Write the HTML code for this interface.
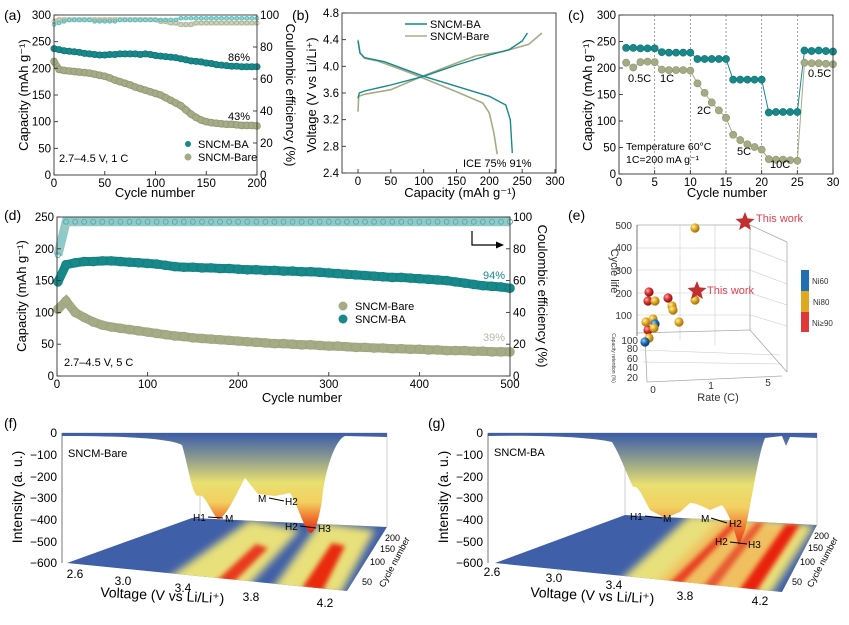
<!DOCTYPE html>
<html><head><meta charset="utf-8">
<style>
html,body{margin:0;padding:0;background:#fff;}
svg{display:block;font-family:"Liberation Sans",Arial,sans-serif;}
</style></head>
<body>
<svg id="fig" width="849" height="625" viewBox="0 0 849 625" xmlns="http://www.w3.org/2000/svg">
<defs>
 <radialGradient id="sY" cx="35%" cy="35%" r="65%"><stop offset="0" stop-color="#fff3b0"/><stop offset="0.5" stop-color="#e0aa20"/><stop offset="1" stop-color="#a07010"/></radialGradient>
 <radialGradient id="sR" cx="35%" cy="35%" r="65%"><stop offset="0" stop-color="#ffb0b0"/><stop offset="0.5" stop-color="#d83030"/><stop offset="1" stop-color="#901010"/></radialGradient>
 <radialGradient id="sB" cx="35%" cy="35%" r="65%"><stop offset="0" stop-color="#a0d0ff"/><stop offset="0.5" stop-color="#1f6fb2"/><stop offset="1" stop-color="#0a3a70"/></radialGradient>
 <linearGradient id="surfF" gradientUnits="userSpaceOnUse" x1="0" y1="433" x2="0" y2="532">
  <stop offset="0" stop-color="#3b5ca8"/><stop offset="0.25" stop-color="#8a9a90"/><stop offset="0.5" stop-color="#e8e070"/><stop offset="0.7" stop-color="#f2d060"/><stop offset="0.85" stop-color="#f07a30"/><stop offset="1" stop-color="#e02818"/>
 </linearGradient>
 <linearGradient id="surfG" gradientUnits="userSpaceOnUse" x1="0" y1="433" x2="0" y2="548">
  <stop offset="0" stop-color="#3b5ca8"/><stop offset="0.22" stop-color="#8a9a90"/><stop offset="0.45" stop-color="#e8e070"/><stop offset="0.65" stop-color="#f2d060"/><stop offset="0.82" stop-color="#f07a30"/><stop offset="1" stop-color="#e02818"/>
 </linearGradient>
 <filter id="blur4" x="-50%" y="-50%" width="200%" height="200%"><feGaussianBlur stdDeviation="4"/></filter>
 <filter id="blur2" x="-50%" y="-50%" width="200%" height="200%"><feGaussianBlur stdDeviation="2.5"/></filter>
 <clipPath id="floorF"><polygon points="67,563 347,591 387,527 192,518"/></clipPath>
 <clipPath id="floorG"><polygon points="495,563 782,592 817,525 625,515"/></clipPath>
</defs>

<text x="4" y="20" font-size="14">(a)</text>
<text x="292" y="20" font-size="14">(b)</text>
<text x="568" y="20" font-size="14">(c)</text>
<text x="4" y="220" font-size="14">(d)</text>
<text x="568" y="220" font-size="14">(e)</text>
<text x="4" y="428" font-size="14">(f)</text>
<text x="428" y="428" font-size="14">(g)</text>

<g id="charts"></g>

<g font-size="10" fill="#333">
 <g stroke="#ccc" stroke-width="0.6" fill="none">
  <line x1="637" y1="248" x2="750" y2="248"/><line x1="637" y1="270" x2="750" y2="270"/>
  <line x1="637" y1="293" x2="750" y2="293"/><line x1="637" y1="315" x2="750" y2="315"/>
  <line x1="750" y1="248" x2="787" y2="262"/><line x1="750" y1="270" x2="787" y2="284"/>
  <line x1="750" y1="293" x2="787" y2="305"/><line x1="750" y1="315" x2="787" y2="326"/>
  <line x1="680" y1="225" x2="680" y2="340"/><line x1="715" y1="225" x2="715" y2="345"/>
  <line x1="640" y1="350" x2="780" y2="355"/><line x1="643" y1="362" x2="782" y2="364"/>
 </g>
 <g stroke="#aaa" stroke-width="0.8" fill="none">
  <line x1="637" y1="225" x2="750" y2="225"/><line x1="750" y1="225" x2="787" y2="242"/>
  <line x1="750" y1="225" x2="750" y2="330"/><line x1="787" y1="242" x2="787" y2="372"/>
  <line x1="637" y1="333" x2="750" y2="330"/><line x1="750" y1="330" x2="787" y2="372"/>
  <line x1="647" y1="382" x2="782" y2="376"/><line x1="645" y1="337" x2="647" y2="382"/>
 </g>
 <line x1="637" y1="225" x2="637" y2="336" stroke="#555" stroke-width="0.8"/>
 <g text-anchor="end">
  <text x="632" y="229">500</text><text x="632" y="251">400</text><text x="632" y="274">300</text><text x="632" y="297">200</text><text x="632" y="319">100</text>
 </g>
 <text transform="translate(611,271) rotate(90)" text-anchor="middle" font-size="11">Cycle life</text>
 <g text-anchor="end">
  <text x="638" y="344">100</text><text x="638" y="352">80</text><text x="638" y="362">60</text><text x="638" y="371">40</text><text x="638" y="381">20</text>
 </g>
 <text transform="translate(612,358) rotate(90)" text-anchor="middle" font-size="5">Capacity retention (%)</text>
 <g text-anchor="middle">
  <text x="653" y="393">0</text><text x="711" y="389">1</text><text x="768" y="386">5</text>
 </g>
 <text x="718" y="401" text-anchor="middle" font-size="11">Rate (C)</text>
 <g>
  <circle cx="695" cy="228" r="4.6" fill="url(#sY)"/>
  <circle cx="649" cy="292" r="4.6" fill="url(#sR)"/>
  <circle cx="648" cy="301" r="4.6" fill="url(#sR)"/>
  <circle cx="655" cy="301" r="4.6" fill="url(#sY)"/>
  <circle cx="668" cy="298" r="4.6" fill="url(#sR)"/>
  <circle cx="672" cy="306" r="4.6" fill="url(#sY)"/>
  <circle cx="673" cy="310" r="4.6" fill="url(#sY)"/>
  <circle cx="695" cy="300" r="4.6" fill="url(#sY)"/>
  <circle cx="646" cy="322" r="4.6" fill="url(#sY)"/>
  <circle cx="653" cy="319" r="4.6" fill="url(#sY)"/>
  <circle cx="655" cy="324" r="4.6" fill="url(#sB)"/>
  <circle cx="679" cy="322" r="4.6" fill="url(#sY)"/>
  <circle cx="648" cy="330" r="4.6" fill="url(#sR)"/>
  <circle cx="654" cy="328" r="4.6" fill="url(#sY)"/>
  <circle cx="649" cy="338" r="4.6" fill="url(#sY)"/>
  <circle cx="645" cy="342" r="4.6" fill="url(#sB)"/>
 </g>
 <polygon fill="#c03030" points="745,212 747.6,218.4 754.5,219 749.2,223.4 750.9,230 745,226.4 739.1,230 740.8,223.4 735.5,219 742.4,218.4"/>
 <polygon fill="#c03030" points="697,281 699.6,287.4 706.5,288 701.2,292.4 702.9,299 697,295.4 691.1,299 692.8,292.4 687.5,288 694.4,287.4"/>
 <text x="756" y="222" fill="#e04050" font-size="11">This work</text>
 <text x="707" y="294" fill="#e04050" font-size="11">This work</text>
 <rect x="801" y="270" width="8" height="21" fill="#1f6fb2"/>
 <rect x="801" y="291" width="8" height="21" fill="#e0a820"/>
 <rect x="801" y="312" width="8" height="20" fill="#e03838"/>
 <g font-size="8">
  <text x="812" y="284">Ni60</text><text x="813" y="305">Ni80</text><text x="812" y="326">Ni≥90</text>
 </g>
</g>

<g font-size="11">
 <polygon points="67,563 347,591 387,527 192,518" fill="#3f5fa8"/>
 <g clip-path="url(#floorF)">
  <polygon points="165,580 240,595 300,530 250,520" fill="#e8e07a" filter="url(#blur4)"/>
  <polygon points="270,592 340,595 375,530 320,522" fill="#e8e07a" filter="url(#blur4)"/>
  <polygon points="212,585 228,588 268,548 256,544" fill="#e83a1a" filter="url(#blur2)"/>
  <polygon points="302,588 322,592 345,546 332,543" fill="#e82a10" filter="url(#blur2)"/>
 </g>
 <g stroke="#bbb" stroke-width="0.7" fill="none">
  <line x1="62" y1="433" x2="387" y2="433"/><line x1="387" y1="433" x2="387" y2="527"/><line x1="200" y1="433" x2="200" y2="518"/>
 </g>
 <path fill="url(#surfF)" d="M62,433 L387,433 L387,437 L345,436 C335,440 325,470 322,500 C318,525 314,532 311,533 C304,530 298,505 290,493 L275,496 L258,494 L245,478 C238,490 228,515 218,520 C210,510 204,492 198,496 C192,495 188,465 182,445 C170,438 120,436 62,436 Z"/>
 <line x1="62" y1="433" x2="62" y2="563" stroke="#555" stroke-width="0.8"/>
 <g text-anchor="end" font-size="12">
  <text x="57" y="437">0</text><text x="57" y="459">−100</text><text x="57" y="481">−200</text><text x="57" y="502">−300</text><text x="57" y="524">−400</text><text x="57" y="546">−500</text><text x="57" y="567">−600</text>
 </g>
 <text transform="translate(22,497) rotate(-90)" text-anchor="middle" font-size="14">Intensity (a. u.)</text>
 <text x="68" y="457" font-size="11">SNCM-Bare</text>
 <g font-size="12" text-anchor="middle">
  <text x="75" y="578">2.6</text><text x="123" y="585">3.0</text><text x="183" y="592">3.4</text><text x="251" y="601">3.8</text><text x="325" y="607">4.2</text>
 </g>
 <text x="100" y="600" font-size="14" transform="rotate(3,160,600)">Voltage (V vs Li/Li⁺)</text>
 <g font-size="9">
  <text x="385" y="541">200</text><text x="380" y="552">150</text><text x="370" y="565">100</text><text x="362" y="585">50</text>
 </g>
 <text transform="translate(384,588) rotate(-62)" font-size="9">Cycle number</text>
 <g font-size="10">
  <text x="193" y="521">H1</text><line x1="208" y1="517" x2="223" y2="518" stroke="#000"/><text x="225" y="522">M</text>
  <text x="258" y="502">M</text><line x1="269" y1="498" x2="284" y2="501" stroke="#000"/><text x="285" y="505">H2</text>
  <text x="285" y="530">H2</text><line x1="300" y1="526" x2="316" y2="528" stroke="#000"/><text x="318" y="532">H3</text>
 </g>
</g>

<g font-size="11">
 <polygon points="495,563 782,592 817,525 625,515" fill="#3f5fa8"/>
 <g clip-path="url(#floorG)">
  <polygon points="610,590 770,595 815,525 690,515" fill="#e8e07a" filter="url(#blur4)"/>
  <polygon points="650,590 750,592 800,528 720,520" fill="#f0c060" filter="url(#blur4)"/>
  <polygon points="662,590 674,592 742,520 734,520" fill="#e84020" filter="url(#blur2)"/>
  <polygon points="700,590 712,592 765,522 756,522" fill="#e85a30" filter="url(#blur2)"/>
  <polygon points="738,592 756,592 800,524 786,524" fill="#e82010" filter="url(#blur2)"/>
 </g>
 <g stroke="#bbb" stroke-width="0.7" fill="none">
  <line x1="488" y1="433" x2="817" y2="433"/><line x1="817" y1="433" x2="817" y2="525"/><line x1="625" y1="433" x2="625" y2="515"/>
 </g>
 <path fill="url(#surfG)" d="M488,433 L817,433 L817,438 L790,437 L786,446 L782,436 L765,438 C758,455 752,500 745,530 L739,546 C734,530 730,515 722,505 L710,510 C700,505 695,503 690,503 L680,512 L665,518 L650,510 C642,495 638,485 633,487 C625,470 620,455 612,442 C590,437 540,435 488,436 Z"/>
 <line x1="488" y1="433" x2="488" y2="563" stroke="#555" stroke-width="0.8"/>
 <g text-anchor="end" font-size="12">
  <text x="483" y="437">0</text><text x="483" y="459">−100</text><text x="483" y="481">−200</text><text x="483" y="502">−300</text><text x="483" y="524">−400</text><text x="483" y="546">−500</text><text x="483" y="567">−600</text>
 </g>
 <text transform="translate(448,497) rotate(-90)" text-anchor="middle" font-size="14">Intensity (a. u.)</text>
 <text x="494" y="456" font-size="11">SNCM-BA</text>
 <g font-size="12" text-anchor="middle">
  <text x="492" y="576">2.6</text><text x="554" y="582">3.0</text><text x="614" y="589">3.4</text><text x="685" y="600">3.8</text><text x="760" y="605">4.2</text>
 </g>
 <text x="530" y="600" font-size="14" transform="rotate(3,590,600)">Voltage (V vs Li/Li⁺)</text>
 <g font-size="9">
  <text x="814" y="539">200</text><text x="808" y="551">150</text><text x="800" y="565">100</text><text x="792" y="585">50</text>
 </g>
 <text transform="translate(812,588) rotate(-62)" font-size="9">Cycle number</text>
 <g font-size="10">
  <text x="630" y="520">H1</text><line x1="645" y1="516" x2="662" y2="518" stroke="#000"/><text x="663" y="522">M</text>
  <text x="701" y="522">M</text><line x1="711" y1="518" x2="727" y2="523" stroke="#000"/><text x="729" y="527">H2</text>
  <text x="715" y="545">H2</text><line x1="730" y1="542" x2="747" y2="544" stroke="#000"/><text x="748" y="548">H3</text>
 </g>
</g>
</svg>

<script>
const aCycles = [0,5,10,15,20,25,30,35,40,45,50,55,60,65,70,75,80,85,90,95,100,105,110,115,120,125,130,135,140,145,150,155,160,165,170,175,180,185,190,195,200];
const aCapBA = [237,235,233,232,231,230,228,227,226,225,225,226,226,227,227,227,227,226,227,226,224,223,222,221,220,218,216,214,213,212,210,209,207,206,205,204,204,203,203,203,203];
const aCapBare = [213,198,196,195,194,193,192,191,189,187,185,182,178,175,172,169,165,162,159,156,153,150,145,140,135,130,122,114,108,103,100,98,97,96,95,95,94,93,93,93,92];
const aCEBA = [94,95,96,97,97,97,97,97,96,96,96,96,96,97,97,97,97,97,97,97,97,97,97,97,97,98,98,98,98,98,98,98,98,98,98,98,98,98,98,98,98];
const aCEBare = [96,97,97,97,97,97,97,97,97,97,97,97,97,97,97,97,97,97,97,97,97,96,96,95,95,94,94,94,95,95,95,95,95,95,95,95,95,95,95,95,95];
const aXTicks = [0,50,100,150,200];
const aYTicks = [0,50,100,150,200,250,300];
const aY2Ticks = [0,20,40,60,80,100];
const bBAChgCap = [0,2,10,50,100,150,200,230,250,258];
const bBAChgV = [3.52,3.6,3.63,3.72,3.85,4.02,4.17,4.25,4.38,4.5];
const bBADisCap = [0,3,10,40,100,150,200,225,232,235];
const bBADisV = [4.38,4.2,4.13,4.07,3.85,3.7,3.55,3.42,3.2,2.7];
const bBareChgCap = [0,1,10,50,100,150,180,220,260,280];
const bBareChgV = [3.32,3.55,3.58,3.65,3.86,4.05,4.16,4.22,4.33,4.5];
const bBareDisCap = [0,3,10,30,80,150,190,200,207,212];
const bBareDisV = [4.4,4.2,4.12,4.08,3.9,3.62,3.45,3.3,3.0,2.68];
const bXTicks = [0,50,100,150,200,250,300];
const bYTicks = [2.4,2.8,3.2,3.6,4.0,4.4,4.8];
const cCycles = [1,2,3,4,5,6,7,8,9,10,11,12,13,14,15,16,17,18,19,20,21,22,23,24,25,26,27,28,29,30];
const cCapBA = [238,238,237,237,237,230,229,229,229,229,217,217,217,217,217,178,178,178,178,178,116,117,117,117,117,233,232,233,232,231];
const cCapBare = [210,201,211,212,211,197,196,196,196,195,171,153,135,120,106,74,64,56,51,46,28,27,27,26,25,210,209,209,208,207];
const cXTicks = [0,5,10,15,20,25,30];
const cYTicks = [0,50,100,150,200,250,300];
const cRateLines = [5,10,15,20,25];
const dCycles = [1,10,20,30,40,50,60,70,80,90,100,110,120,130,140,150,160,170,180,190,200,210,220,230,240,250,260,270,280,290,300,310,320,330,340,350,360,370,380,390,400,410,420,430,440,450,460,470,480,490,500];
const dCapBA = [148,175,178,180,180,181,181,180,179,178,177,176,174,172,171,171,170,170,169,169,168,167,167,166,166,165,165,164,164,163,162,161,160,159,158,157,156,155,155,154,153,152,151,150,148,146,144,142,141,140,138];
const dCapBare = [105,118,100,92,85,80,77,75,73,71,69,67,65,63,62,60,59,58,57,56,55,54,53,52,51,51,50,49,49,48,47,47,46,45,45,44,44,43,43,42,42,41,41,40,40,40,39,39,38,38,38];
const dCEBA = [76,97,97,97,97,97,97,97,97,97,97,97,97,97,97,97,97,97,97,97,97,97,97,97,97,97,97,97,97,97,97,97,97,97,97,97,97,97,97,97,97,97,97,97,97,97,97,97,97,97,97];
const dCEBare = [80,93,96,97,97,97,97,97,97,97,97,97,97,97,97,97,97,97,97,97,97,97,97,97,97,97,97,97,97,97,97,97,97,97,97,97,97,97,97,97,97,97,97,97,97,97,97,97,97,97,97];
const dXTicks = [0,100,200,300,400,500];
const dYTicks = [0,50,100,150,200,250];
const dY2Ticks = [0,20,40,60,80,100];

const NS = 'http://www.w3.org/2000/svg';
const root = document.getElementById('charts');
const TEAL = '#17898a', BARE = '#a5ab85';
function mk(tag, attrs, parent) {
  const e = document.createElementNS(NS, tag);
  for (const k in attrs) e.setAttribute(k, attrs[k]);
  (parent || root).appendChild(e);
  return e;
}
function lin(d0, d1, r0, r1) { return v => r0 + (v - d0) / (d1 - d0) * (r1 - r0); }
function txt(x, y, s, size, anchor, parent, name, extra) {
  const t = mk('text', Object.assign({x: x, y: y, 'font-size': size, 'text-anchor': anchor || 'start'}, extra || {}), parent);
  t.textContent = s;
  
  
  return t;
}
function frame(g, x0, y0, x1, y1, name) {
  const r = mk('rect', {x: x0, y: y0, width: x1 - x0, height: y1 - y0, fill: 'none', stroke: '#333', 'stroke-width': 0.9}, g);
  
  
}
function xTicks(g, ticks, sx, yb, name, fmt) {
  ticks.forEach(t => {
    const l = mk('line', {x1: sx(t), x2: sx(t), y1: yb, y2: yb - 4, stroke: '#333', 'stroke-width': 0.9}, g);
    
    
    txt(sx(t), yb + 12, fmt ? fmt(t) : String(t), 11.5, 'middle', g, name + '-label');
  });
}
function yTicks(g, ticks, sy, xl, side, name, fmt) {
  ticks.forEach(t => {
    const dir = side === 'left' ? 1 : -1;
    const l = mk('line', {x1: xl, x2: xl + 4 * dir, y1: sy(t), y2: sy(t), stroke: '#333', 'stroke-width': 0.9}, g);
    
    
    txt(side === 'left' ? xl - 3 : xl + 3, sy(t) + 4, fmt ? fmt(t) : String(t), 11.5, side === 'left' ? 'end' : 'start', g, name + '-label');
  });
}
function dots(g, xs, ys, sx, sy, r, fill, stroke, name, open) {
  xs.forEach((x, i) => {
    const c = mk('circle', {cx: sx(x), cy: sy(ys[i]), r: r, fill: open ? 'none' : fill, stroke: stroke, 'stroke-width': open ? 0.8 : 0.6}, g);
    
    
  });
}
function line(g, xs, ys, sx, sy, color, w, name) {
  const d = xs.map((x, i) => (i ? 'L' : 'M') + sx(x).toFixed(1) + ',' + sy(ys[i]).toFixed(1)).join(' ');
  const p = mk('path', {d: d, fill: 'none', stroke: color, 'stroke-width': w}, g);
  
  
  return p;
}
function group(name) {
  const g = mk('g', {});
  
  
  return g;
}

(function(){
  const g = group('panel-a-cycling-1c');
  const sx = lin(0, 200, 54, 257), sy = lin(0, 300, 175, 15), sy2 = lin(0, 100, 175, 15);
  line(g, aCycles, aCEBare, sx, sy2, '#cfd2c0', 5, 'a-ce-bare-band');
  line(g, aCycles, aCEBA, sx, sy2, '#9fd3d3', 3, 'a-ce-ba-band');
  dots(g, aCycles, aCEBare, sx, sy2, 2, 'none', BARE, 'a-ce-bare-point', true);
  dots(g, aCycles, aCEBA, sx, sy2, 1.8, 'none', '#4bb', 'a-ce-ba-point', true);
  line(g, aCycles, aCapBare, sx, sy, BARE, 7, 'a-cap-bare-band');
  line(g, aCycles, aCapBA, sx, sy, TEAL, 6, 'a-cap-ba-band');
  dots(g, aCycles, aCapBare, sx, sy, 3.5, BARE, '#8d9370', 'a-cap-bare-point');
  dots(g, aCycles, aCapBA, sx, sy, 3.2, TEAL, '#0f6d6e', 'a-cap-ba-point');
  frame(g, 54, 15, 257, 175, 'a-plot-frame');
  xTicks(g, aXTicks, sx, 175, 'a-x');
  yTicks(g, aYTicks, sy, 54, 'left', 'a-y');
  yTicks(g, aY2Ticks, sy2, 257, 'right', 'a-y2');
  txt(155, 197, 'Cycle number', 13, 'middle', g, 'a-x-title');
  txt(0, 0, 'Capacity (mAh g⁻¹)', 13, 'middle', g, 'a-y-title', {transform: 'translate(28,95) rotate(-90)'});
  txt(0, 0, 'Coulombic efficiency (%)', 13, 'middle', g, 'a-y2-title', {transform: 'translate(286,95) rotate(90)'});
  txt(250, 61, '86%', 11, 'end', g, 'a-retention-ba');
  txt(250, 120, '43%', 11, 'end', g, 'a-retention-bare');
  txt(59, 162, '2.7–4.5 V, 1 C', 11, 'start', g, 'a-condition-text');
  const l1 = mk('circle', {cx: 188, cy: 144, r: 3, fill: TEAL}, g);
  
  
  txt(198, 148, 'SNCM-BA', 11, 'start', g, 'a-legend-ba');
  const l2 = mk('circle', {cx: 188, cy: 157, r: 3.5, fill: BARE}, g);
  
  
  txt(198, 161, 'SNCM-Bare', 11, 'start', g, 'a-legend-bare');
})();

(function(){
  const g = group('panel-b-voltage-profile');
  const sx = lin(0, 300, 358, 555), sy = lin(2.4, 4.8, 173, 13);
  line(g, bBareChgCap, bBareChgV, sx, sy, BARE, 1.6, 'b-bare-charge-curve');
  line(g, bBareDisCap, bBareDisV, sx, sy, BARE, 1.6, 'b-bare-discharge-curve');
  line(g, bBAChgCap, bBAChgV, sx, sy, TEAL, 1.4, 'b-ba-charge-curve');
  line(g, bBADisCap, bBADisV, sx, sy, TEAL, 1.4, 'b-ba-discharge-curve');
  frame(g, 342, 13, 556, 173, 'b-plot-frame');
  xTicks(g, bXTicks, sx, 173, 'b-x');
  yTicks(g, bYTicks, sy, 342, 'left', 'b-y', t => t.toFixed(1));
  txt(460, 197, 'Capacity (mAh g⁻¹)', 13, 'middle', g, 'b-x-title');
  txt(0, 0, 'Voltage (V vs Li/Li⁺)', 13, 'middle', g, 'b-y-title', {transform: 'translate(316,95) rotate(-90)'});
  const a = mk('line', {x1: 405, x2: 427, y1: 24, y2: 24, stroke: TEAL, 'stroke-width': 1.5}, g);
  
  
  txt(430, 28, 'SNCM-BA', 11, 'start', g, 'b-legend-ba');
  const b = mk('line', {x1: 405, x2: 427, y1: 36, y2: 36, stroke: BARE, 'stroke-width': 1.5}, g);
  
  
  txt(430, 40, 'SNCM-Bare', 11, 'start', g, 'b-legend-bare');
  txt(463, 167, 'ICE  75%  91%', 11, 'start', g, 'b-ice-text');
})();

(function(){
  const g = group('panel-c-rate');
  const sx = lin(0, 30, 619, 833), sy = lin(0, 300, 174, 15);
  cRateLines.forEach(v => {
    const l = mk('line', {x1: sx(v), x2: sx(v), y1: 15, y2: 174, stroke: '#777', 'stroke-width': 0.7, 'stroke-dasharray': '2,2'}, g);
    
    
  });
  line(g, cCycles, cCapBare, sx, sy, BARE, 1, 'c-bare-line');
  line(g, cCycles, cCapBA, sx, sy, TEAL, 1, 'c-ba-line');
  dots(g, cCycles, cCapBare, sx, sy, 3.6, BARE, '#8d9370', 'c-bare-point');
  dots(g, cCycles, cCapBA, sx, sy, 3.6, TEAL, '#0f6d6e', 'c-ba-point');
  frame(g, 619, 15, 833, 174, 'c-plot-frame');
  xTicks(g, cXTicks, sx, 174, 'c-x');
  yTicks(g, cYTicks, sy, 619, 'left', 'c-y');
  txt(727, 197, 'Cycle number', 13, 'middle', g, 'c-x-title');
  txt(0, 0, 'Capacity (mAh g⁻¹)', 13, 'middle', g, 'c-y-title', {transform: 'translate(592,95) rotate(-90)'});
  txt(628, 82, '0.5C', 11, 'start', g, 'c-label-05c');
  txt(660, 82, '1C', 11, 'start', g, 'c-label-1c');
  txt(697, 114, '2C', 11, 'start', g, 'c-label-2c');
  txt(737, 155, '5C', 11, 'start', g, 'c-label-5c');
  txt(770, 168, '10C', 11, 'start', g, 'c-label-10c');
  txt(808, 77, '0.5C', 11, 'start', g, 'c-label-05c-return');
  txt(626, 150, 'Temperature 60°C', 10.5, 'start', g, 'c-temp-text');
  txt(626, 163, '1C=200 mA g⁻¹', 10.5, 'start', g, 'c-current-text');
})();

(function(){
  const g = group('panel-d-cycling-5c');
  const sx = lin(0, 500, 57, 510), sy = lin(0, 250, 376, 217), sy2 = lin(0, 100, 376, 217);
  line(g, dCycles, dCEBA, sx, sy2, '#8fcaca', 9, 'd-ce-ba-band');
  dots(g, dCycles, dCEBare, sx, sy2, 2.5, 'none', '#bfc2aa', 'd-ce-bare-point', true);
  dots(g, dCycles, dCEBA, sx, sy2, 2.5, 'none', '#4aa8a8', 'd-ce-ba-point', true);
  line(g, dCycles, dCapBare, sx, sy, BARE, 9, 'd-cap-bare-band');
  line(g, dCycles, dCapBA, sx, sy, TEAL, 9, 'd-cap-ba-band');
  dots(g, dCycles, dCapBare, sx, sy, 4.5, BARE, '#9aa07a', 'd-cap-bare-point');
  dots(g, dCycles, dCapBA, sx, sy, 4.5, TEAL, '#137a7b', 'd-cap-ba-point');
  frame(g, 57, 217, 510, 376, 'd-plot-frame');
  xTicks(g, dXTicks, sx, 376, 'd-x');
  yTicks(g, dYTicks, sy, 57, 'left', 'd-y');
  yTicks(g, dY2Ticks, sy2, 510, 'right', 'd-y2');
  txt(302, 402, 'Cycle number', 13, 'middle', g, 'd-x-title');
  txt(0, 0, 'Capacity (mAh g⁻¹)', 13, 'middle', g, 'd-y-title', {transform: 'translate(26,296) rotate(-90)'});
  txt(0, 0, 'Coulombic efficiency (%)', 13, 'middle', g, 'd-y2-title', {transform: 'translate(538,296) rotate(90)'});
  txt(505, 279, '94%', 11, 'end', g, 'd-retention-ba', {fill: TEAL});
  txt(505, 341, '39%', 11, 'end', g, 'd-retention-bare', {fill: '#b5b8a8'});
  txt(64, 366, '2.7–4.5 V, 5 C', 11, 'start', g, 'd-condition-text');
  const ar = mk('path', {d: 'M472,231 L472,245 L499,245', fill: 'none', stroke: '#000', 'stroke-width': 1.2}, g);
  
  
  const ah = mk('polygon', {points: '504,245 496,241.5 496,248.5', fill: '#000'}, g);
  
  
  const m1 = mk('circle', {cx: 343, cy: 306, r: 4.5, fill: BARE}, g);
  
  
  txt(355, 310, 'SNCM-Bare', 11, 'start', g, 'd-legend-bare');
  const m2 = mk('circle', {cx: 343, cy: 319, r: 4.5, fill: TEAL}, g);
  
  
  txt(355, 323, 'SNCM-BA', 11, 'start', g, 'd-legend-ba');
})();
</script>
</body></html>
